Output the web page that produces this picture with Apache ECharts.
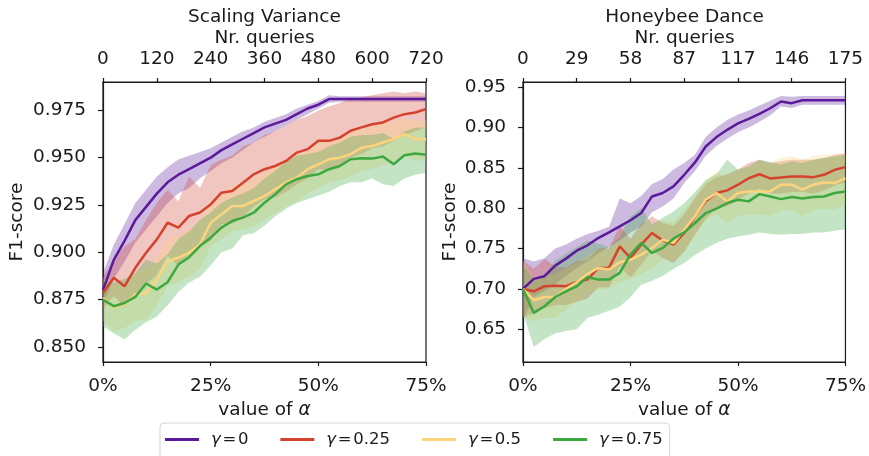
<!DOCTYPE html>
<html>
<head>
<meta charset="utf-8">
<script src="https://cdn.jsdelivr.net/npm/echarts@6/dist/echarts.min.js"></script>
<style>
html, body { margin: 0; padding: 0; background: #fff; }
#main { width: 869px; height: 456px; }
</style>
</head>
<body>
<div id="main"></div>
<script>
// x positions (value of alpha, in %)
var xs = [0, 2.5, 5, 7.5, 10, 12.5, 15, 17.5, 20, 22.5, 25, 27.5, 30, 32.5, 35, 37.5, 40, 42.5, 45, 47.5, 50, 52.5, 55, 57.5, 60, 62.5, 65, 67.5, 70, 72.5, 75];
var gammaNames = ['γ=0', 'γ=0.25', 'γ=0.5', 'γ=0.75'];
var colors = ['#5b1a9b', '#d5432f', '#fdd47e', '#3ca83f'];
var topTicksSV = ['0', '120', '240', '360', '480', '600', '720'];
var topTicksHD = ['0', '29', '58', '87', '117', '146', '175'];
var yTicksSV = [0.850, 0.875, 0.900, 0.925, 0.950, 0.975];
var yTicksHD = [0.65, 0.70, 0.75, 0.80, 0.85, 0.90, 0.95];

// Scaling Variance
var sv_g0 = [0.880, 0.896, 0.906, 0.917, 0.924, 0.931, 0.937, 0.941, 0.944, 0.947, 0.950, 0.954, 0.957, 0.960, 0.963, 0.966, 0.968, 0.970, 0.973, 0.976, 0.978, 0.981, 0.981, 0.981, 0.981, 0.981, 0.981, 0.981, 0.981, 0.981, 0.981];
var sv_g0_lo = [0.872, 0.886, 0.895, 0.905, 0.912, 0.919, 0.926, 0.931, 0.934, 0.939, 0.943, 0.947, 0.950, 0.954, 0.958, 0.961, 0.964, 0.967, 0.970, 0.973, 0.976, 0.979, 0.9795, 0.9795, 0.9795, 0.9795, 0.9795, 0.9795, 0.9795, 0.9795, 0.9795];
var sv_g0_hi = [0.889, 0.904, 0.915, 0.926, 0.933, 0.940, 0.945, 0.949, 0.951, 0.953, 0.955, 0.958, 0.961, 0.964, 0.966, 0.969, 0.971, 0.973, 0.976, 0.978, 0.980, 0.983, 0.9825, 0.9825, 0.9825, 0.9825, 0.9825, 0.9825, 0.9825, 0.9825, 0.9825];
var sv_g25 = [0.8785, 0.8865, 0.882, 0.8918, 0.8997, 0.9068, 0.9156, 0.913, 0.9192, 0.921, 0.9253, 0.9315, 0.9324, 0.9368, 0.9412, 0.9439, 0.9456, 0.9483, 0.9527, 0.9545, 0.9589, 0.9589, 0.9606, 0.9642, 0.966, 0.9677, 0.9686, 0.9712, 0.973, 0.9739, 0.9757];
var sv_g25_lo = [0.870, 0.877, 0.871, 0.878, 0.883, 0.888, 0.898, 0.893, 0.899, 0.903, 0.906, 0.915, 0.915, 0.919, 0.924, 0.928, 0.929, 0.932, 0.936, 0.939, 0.944, 0.943, 0.945, 0.950, 0.952, 0.955, 0.956, 0.959, 0.962, 0.964, 0.966];
var sv_g25_hi = [0.887, 0.896, 0.903, 0.907, 0.917, 0.926, 0.933, 0.927, 0.940, 0.934, 0.946, 0.949, 0.951, 0.956, 0.958, 0.962, 0.964, 0.967, 0.970, 0.972, 0.975, 0.977, 0.979, 0.981, 0.982, 0.983, 0.984, 0.985, 0.984, 0.985, 0.984];
var sv_g50 = [0.876, 0.8711, 0.8724, 0.8777, 0.8785, 0.8856, 0.8953, 0.8971, 0.8997, 0.9041, 0.9156, 0.920, 0.9244, 0.9244, 0.9271, 0.9297, 0.9333, 0.9368, 0.9394, 0.9439, 0.9465, 0.9492, 0.950, 0.9518, 0.9553, 0.9562, 0.958, 0.9598, 0.9624, 0.9598, 0.9598];
var sv_g50_lo = [0.864, 0.858, 0.860, 0.864, 0.864, 0.872, 0.882, 0.884, 0.887, 0.891, 0.903, 0.907, 0.911, 0.912, 0.914, 0.917, 0.921, 0.924, 0.927, 0.931, 0.934, 0.937, 0.938, 0.940, 0.943, 0.944, 0.946, 0.948, 0.951, 0.948, 0.949];
var sv_g50_hi = [0.886, 0.883, 0.884, 0.889, 0.891, 0.897, 0.907, 0.909, 0.912, 0.916, 0.927, 0.932, 0.936, 0.936, 0.939, 0.942, 0.945, 0.949, 0.951, 0.955, 0.958, 0.960, 0.961, 0.963, 0.966, 0.967, 0.968, 0.969, 0.971, 0.969, 0.970];
var sv_g75 = [0.875, 0.8715, 0.8732, 0.8764, 0.8835, 0.8803, 0.8842, 0.8935, 0.8974, 0.9033, 0.9077, 0.913, 0.9165, 0.9183, 0.9209, 0.9262, 0.9306, 0.9359, 0.9386, 0.9403, 0.9412, 0.9439, 0.9456, 0.9492, 0.9497, 0.9495, 0.9506, 0.9465, 0.9513, 0.9522, 0.9515];
var sv_g75_lo = [0.861, 0.857, 0.854, 0.859, 0.863, 0.866, 0.872, 0.879, 0.884, 0.887, 0.893, 0.900, 0.902, 0.909, 0.910, 0.914, 0.919, 0.923, 0.926, 0.928, 0.930, 0.932, 0.935, 0.937, 0.937, 0.939, 0.936, 0.935, 0.939, 0.941, 0.942];
var sv_g75_hi = [0.885, 0.884, 0.886, 0.889, 0.896, 0.894, 0.899, 0.907, 0.911, 0.917, 0.921, 0.926, 0.929, 0.931, 0.934, 0.939, 0.943, 0.948, 0.951, 0.952, 0.953, 0.956, 0.958, 0.961, 0.962, 0.962, 0.963, 0.960, 0.964, 0.966, 0.966];

// Honeybee Dance
var hd_g0 = [0.700, 0.7124, 0.7157, 0.7288, 0.7375, 0.7474, 0.754, 0.763, 0.770, 0.7775, 0.785, 0.794, 0.8145, 0.8187, 0.827, 0.8413, 0.8566, 0.8763, 0.888, 0.897, 0.905, 0.9105, 0.9167, 0.9237, 0.932, 0.930, 0.9336, 0.9336, 0.9336, 0.9336, 0.9336];
var hd_g0_lo = [0.662, 0.690, 0.697, 0.706, 0.716, 0.726, 0.734, 0.744, 0.752, 0.760, 0.770, 0.777, 0.795, 0.802, 0.812, 0.831, 0.846, 0.865, 0.877, 0.886, 0.894, 0.900, 0.907, 0.915, 0.926, 0.924, 0.928, 0.928, 0.928, 0.928, 0.928];
var hd_g0_hi = [0.738, 0.734, 0.738, 0.750, 0.755, 0.762, 0.768, 0.772, 0.777, 0.812, 0.806, 0.815, 0.830, 0.836, 0.848, 0.856, 0.866, 0.888, 0.900, 0.909, 0.916, 0.921, 0.927, 0.933, 0.939, 0.938, 0.939, 0.939, 0.939, 0.939, 0.939];
var hd_g25 = [0.700, 0.697, 0.7033, 0.704, 0.7033, 0.7087, 0.7115, 0.726, 0.726, 0.7527, 0.7383, 0.7548, 0.7692, 0.760, 0.7548, 0.7692, 0.7898, 0.8084, 0.8187, 0.822, 0.829, 0.837, 0.842, 0.8368, 0.838, 0.8393, 0.8393, 0.8384, 0.8413, 0.8475, 0.8508];
var hd_g25_lo = [0.665, 0.670, 0.676, 0.680, 0.680, 0.684, 0.688, 0.702, 0.702, 0.728, 0.714, 0.730, 0.748, 0.738, 0.732, 0.746, 0.768, 0.787, 0.800, 0.802, 0.810, 0.818, 0.824, 0.818, 0.818, 0.820, 0.820, 0.818, 0.822, 0.828, 0.832];
var hd_g25_hi = [0.735, 0.725, 0.737, 0.728, 0.726, 0.735, 0.735, 0.750, 0.750, 0.778, 0.762, 0.780, 0.790, 0.782, 0.778, 0.792, 0.812, 0.830, 0.838, 0.842, 0.848, 0.856, 0.860, 0.856, 0.858, 0.860, 0.860, 0.860, 0.862, 0.866, 0.868];
var hd_g50 = [0.700, 0.686, 0.690, 0.690, 0.700, 0.7082, 0.7185, 0.726, 0.724, 0.733, 0.7363, 0.7424, 0.7507, 0.761, 0.7569, 0.7733, 0.790, 0.8104, 0.8187, 0.8084, 0.8187, 0.8207, 0.8207, 0.8207, 0.829, 0.829, 0.8228, 0.829, 0.8318, 0.831, 0.8372];
var hd_g50_lo = [0.665, 0.660, 0.664, 0.664, 0.674, 0.684, 0.694, 0.700, 0.700, 0.708, 0.712, 0.718, 0.725, 0.737, 0.735, 0.748, 0.765, 0.785, 0.792, 0.780, 0.790, 0.792, 0.792, 0.790, 0.797, 0.797, 0.790, 0.797, 0.800, 0.798, 0.805];
var hd_g50_hi = [0.735, 0.712, 0.716, 0.718, 0.726, 0.732, 0.742, 0.750, 0.748, 0.757, 0.760, 0.766, 0.776, 0.785, 0.782, 0.798, 0.815, 0.835, 0.845, 0.838, 0.848, 0.852, 0.855, 0.856, 0.862, 0.865, 0.860, 0.865, 0.866, 0.866, 0.868];
var hd_g75 = [0.700, 0.6703, 0.6786, 0.690, 0.697, 0.7033, 0.7148, 0.7115, 0.7115, 0.7198, 0.7424, 0.7569, 0.7445, 0.7507, 0.7622, 0.770, 0.7816, 0.7939, 0.7993, 0.8063, 0.8104, 0.8084, 0.8174, 0.8145, 0.8112, 0.8137, 0.812, 0.8137, 0.8145, 0.8187, 0.8207];
var hd_g75_lo = [0.670, 0.628, 0.638, 0.645, 0.648, 0.650, 0.664, 0.668, 0.673, 0.678, 0.690, 0.705, 0.710, 0.716, 0.725, 0.732, 0.742, 0.750, 0.757, 0.762, 0.765, 0.767, 0.770, 0.768, 0.767, 0.768, 0.768, 0.770, 0.770, 0.772, 0.774];
var hd_g75_hi = [0.730, 0.712, 0.718, 0.735, 0.744, 0.752, 0.760, 0.756, 0.752, 0.765, 0.790, 0.800, 0.780, 0.788, 0.796, 0.806, 0.820, 0.835, 0.842, 0.860, 0.848, 0.852, 0.860, 0.857, 0.854, 0.858, 0.856, 0.860, 0.862, 0.864, 0.866];

var font = 'DejaVu Sans';
var ink = '#1a1a1a';

function widths(lo, hi) {
    var out = [];
    for (var i = 0; i < lo.length; i++) {
        out.push(+(hi[i] - lo[i]).toFixed(5));
    }
    return out;
}

function hexAlpha(hex, a) {
    var r = parseInt(hex.slice(1, 3), 16);
    var g = parseInt(hex.slice(3, 5), 16);
    var b = parseInt(hex.slice(5, 7), 16);
    return 'rgba(' + r + ',' + g + ',' + b + ',' + a + ')';
}

var series = [];
var lines = [];

// band = invisible lower line + stacked (hi - lo) area, then the mean line on top
function addGroup(panel, idx, mean, lo, hi) {
    var xi = panel * 2;
    var stack = 'p' + panel + 's' + idx;
    series.push({
        type: 'line', name: 'lo' + stack, stack: stack,
        xAxisIndex: xi, yAxisIndex: panel,
        data: lo, symbol: 'none', silent: true,
        lineStyle: { opacity: 0 }, z: 1
    });
    series.push({
        type: 'line', name: 'band' + stack, stack: stack,
        xAxisIndex: xi, yAxisIndex: panel,
        data: widths(lo, hi), symbol: 'none', silent: true,
        lineStyle: { opacity: 0 },
        areaStyle: { color: hexAlpha(colors[idx], 0.3), opacity: 1 }, z: 1
    });
    lines.push({
        type: 'line', name: gammaNames[idx],
        xAxisIndex: xi, yAxisIndex: panel,
        data: mean, symbol: 'none',
        lineStyle: { color: colors[idx], width: 2.5 },
        itemStyle: { color: colors[idx] }, z: 3
    });
}

addGroup(0, 0, sv_g0, sv_g0_lo, sv_g0_hi);
addGroup(0, 1, sv_g25, sv_g25_lo, sv_g25_hi);
addGroup(0, 2, sv_g50, sv_g50_lo, sv_g50_hi);
addGroup(0, 3, sv_g75, sv_g75_lo, sv_g75_hi);
addGroup(1, 0, hd_g0, hd_g0_lo, hd_g0_hi);
addGroup(1, 1, hd_g25, hd_g25_lo, hd_g25_hi);
addGroup(1, 2, hd_g50, hd_g50_lo, hd_g50_hi);
addGroup(1, 3, hd_g75, hd_g75_lo, hd_g75_hi);
series = series.concat(lines);

var axisLine = { show: true, lineStyle: { color: ink, width: 1.2 } };
var textStyle = { fontFamily: font, fontSize: 18.5, color: ink };

function bottomAxis(grid) {
    return {
        type: 'category', gridIndex: grid, position: 'bottom',
        data: xs, boundaryGap: false,
        axisLine: axisLine, splitLine: { show: false },
        axisTick: { show: true, interval: 9, length: 4, lineStyle: { color: ink, width: 1.2 } },
        axisLabel: Object.assign({ margin: 15, interval: 9, formatter: '{value}%' }, textStyle),
        name: 'value of {a|α}', nameLocation: 'middle', nameGap: 38,
        nameTextStyle: Object.assign({
            rich: { a: { fontFamily: font, fontSize: 18.5, fontStyle: 'italic', color: ink } }
        }, textStyle)
    };
}

function topAxis(grid, labels) {
    return {
        type: 'category', gridIndex: grid, position: 'top',
        data: xs, boundaryGap: false,
        axisLine: axisLine, splitLine: { show: false },
        axisTick: { show: true, interval: 4, length: 4, lineStyle: { color: ink, width: 1.2 } },
        axisLabel: Object.assign({
            margin: 13, interval: 4,
            formatter: function (v, i) { return labels[Math.round(i / 5)]; }
        }, textStyle)
    };
}

function leftAxis(grid, min, max, ticks, digits, gap) {
    return {
        type: 'value', gridIndex: grid, min: min, max: max,
        axisLine: axisLine, splitLine: { show: false },
        axisTick: { show: true, length: 5, customValues: ticks, lineStyle: { color: ink, width: 1.2 } },
        axisLabel: Object.assign({
            margin: 17, customValues: ticks,
            formatter: function (v) { return v.toFixed(digits); }
        }, textStyle),
        name: 'F1-score', nameLocation: 'middle', nameGap: gap, nameRotate: 90,
        nameTextStyle: textStyle
    };
}

var titleStyle = { fontFamily: font, fontSize: 18.5, fontWeight: 'normal', color: ink, lineHeight: 21 };

var chartDom = document.getElementById('main');
var myChart = echarts.init(chartDom);
var option = {
    animation: false,
    backgroundColor: '#fff',
    // panel title with the top axis name as its second line
    title: [
        { text: 'Scaling Variance\nNr. queries', left: 264.5, top: 7, padding: 0, textAlign: 'center', textStyle: titleStyle },
        { text: 'Honeybee Dance\nNr. queries', left: 684.5, top: 7, padding: 0, textAlign: 'center', textStyle: titleStyle }
    ],
    grid: [
        { left: 103, top: 82, width: 323, height: 280, show: true, borderColor: ink, borderWidth: 1.2 },
        { left: 523, top: 82, width: 323, height: 280, show: true, borderColor: ink, borderWidth: 1.2 }
    ],
    xAxis: [bottomAxis(0), topAxis(0, topTicksSV), bottomAxis(1), topAxis(1, topTicksHD)],
    yAxis: [
        leftAxis(0, 0.842, 0.990, yTicksSV, 3, 76),
        leftAxis(1, 0.6095, 0.9562, yTicksHD, 2, 63)
    ],
    legend: {
        data: gammaNames,
        left: 160, top: 423,
        padding: [8, 7, 20, 5],
        itemGap: 32, itemWidth: 34, itemHeight: 3,
        icon: 'rect',
        selectedMode: false,
        borderColor: '#d6d6d6', borderWidth: 1, borderRadius: 4,
        formatter: function (name) {
            return '{g|γ}\u200a=\u200a' + name.split('=')[1];
        },
        textStyle: {
            fontFamily: font, fontSize: 16.5, color: ink, padding: [0, 0, 0, 7],
            rich: { g: { fontFamily: font, fontSize: 16.5, fontStyle: 'italic', color: ink } }
        }
    },
    series: series
};

option && myChart.setOption(option);
</script>
</body>
</html>
